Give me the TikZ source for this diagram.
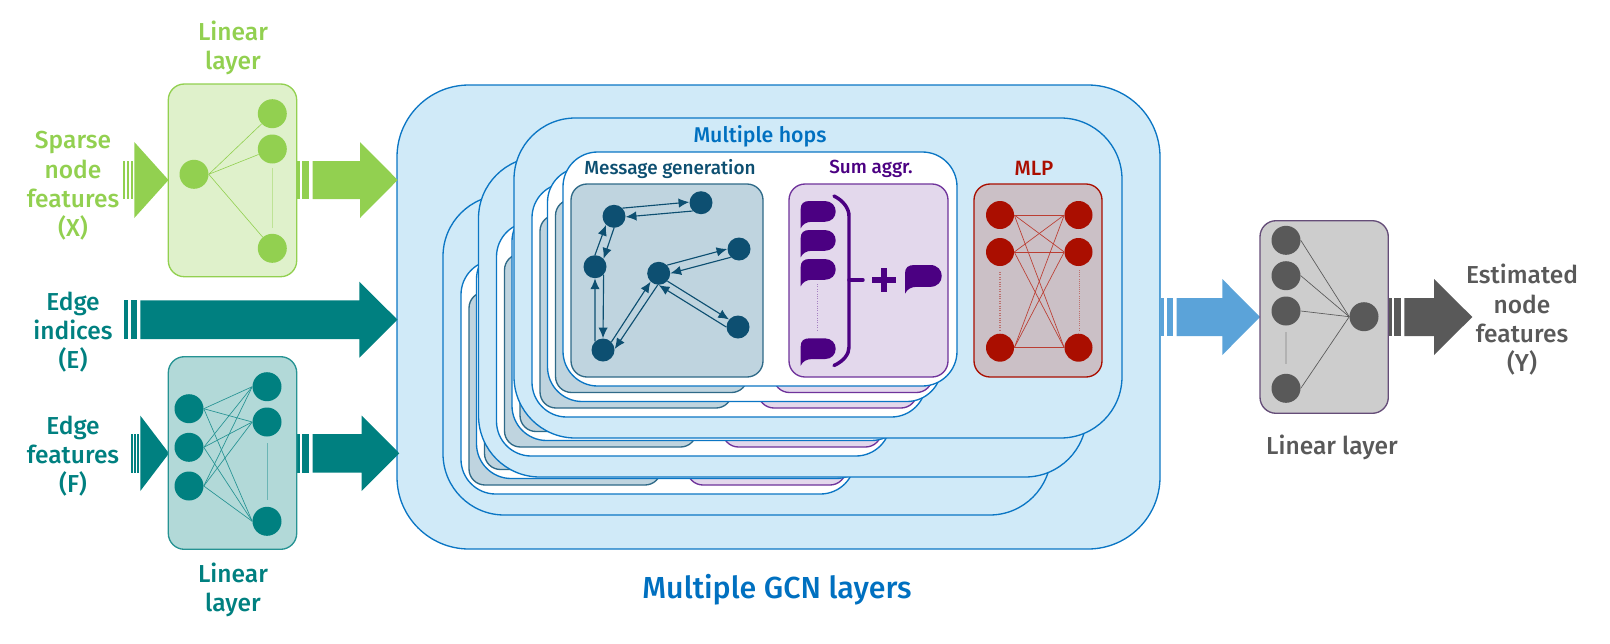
\documentclass[tikz,border=0pt]{standalone}
\usepackage{fontspec}
\setmainfont{Fira Sans}[UprightFont={Fira Sans Medium}]
\definecolor{cgreen}{HTML}{92D050}
\definecolor{cgreenp}{HTML}{DFF1CB}
\definecolor{cteal}{HTML}{008080}
\definecolor{ctealp}{HTML}{B2D9D8}
\definecolor{cgray}{HTML}{595959}
\definecolor{cgrayp}{HTML}{CDCDCD}
\definecolor{cgrays}{HTML}{654D78}
\definecolor{cblue}{HTML}{5BA3D9}
\definecolor{csky}{HTML}{D0EAF8}
\definecolor{cline}{HTML}{0B76C4}
\definecolor{cnavy}{HTML}{0D4F71}
\definecolor{cnavyp}{HTML}{BFD4DF}
\definecolor{cnavys}{HTML}{2F6A88}
\definecolor{cpurple}{HTML}{4B0082}
\definecolor{cpurplep}{HTML}{E3D8EC}
\definecolor{cred}{HTML}{AA0E00}
\definecolor{credp}{HTML}{CBC0C6}
\definecolor{ctext}{HTML}{0070C0}
\usetikzlibrary{arrows.meta}
\tikzset{
  panel/.style={rounded corners=12pt,line width=1pt},
  layerbox/.style={draw=cline,fill=csky,line width=1pt,rounded corners=46pt},
  hopbox/.style={draw=cline,fill=white,line width=1pt,rounded corners=26pt},
  vert/.style={circle,inner sep=0pt,minimum size=#1*0.75pt},
  lab/.style={align=center,inner sep=0pt,font=\fontsize{18.4}{22}\selectfont},
  sublab/.style={align=center,inner sep=0pt,font=\fontsize{14.2}{17}\selectfont},
  flow/.style={draw=cnavy,line width=0.85pt,-{Latex[length=8pt,width=7pt]}},
}
\newcommand\fatarrow[7]{\fill[#1] (#2,#5-#6) -- (#3,#5-#6) -- (#3,#5-#7) -- (#4,#5) -- (#3,#5+#7) -- (#3,#5+#6) -- (#2,#5+#6) -- cycle;}
\newcommand\stripe[5]{\fill[#1] (#2,#4) rectangle (#3,#5);}
\newcommand\bubble[3]{\fill[cpurple,shift={(#1,#2)},scale=#3] (0,27.3) -- (0,8) .. controls (0,2.5) and (3,0) .. (9,0) -- (24,0) .. controls (31,0) and (35,5) .. (35,10.4) .. controls (35,16) and (31,20.8) .. (24,20.8) -- (11,20.8) .. controls (6,20.8) and (2,23) .. (0,27.3) -- cycle;}
\newcommand\hopstack[2]{\begin{scope}[shift={(#1,#2)}]
  \draw[hopbox] (563,152) rectangle (957,386);
  \draw[panel,draw=cnavys,fill=cnavyp] (571,184) rectangle (763,377);
  \draw[panel,draw=cpurple!80!white,fill=cpurplep] (789,184) rectangle (948,377);
\end{scope}}
\newcommand\gcnlayer[2]{\begin{scope}[shift={(#1,#2)}]
  \draw[layerbox] (514,118) rectangle (1122,438);
  \hopstack{-31}{31}
  \hopstack{-15.5}{15.5}
  \hopstack{0}{0}
\end{scope}}
\begin{document}
\begin{tikzpicture}[x=0.75pt,y=-0.75pt]
\useasboundingbox (0,0) rectangle (1610,643);
% ---- big GCN stack
\draw[layerbox,rounded corners=54pt] (397,85) rectangle (1160,549);
\gcnlayer{-71}{77}
\gcnlayer{-35.5}{39}
\gcnlayer{0}{0}
\node[sublab,text=ctext,font=\fontsize{16}{18}\selectfont] (hops) at (760,136) {Multiple hops};
\node[sublab,text=cnavy] (msgt) at (670,169) {Message generation};
\node[sublab,text=cpurple] (sumt) at (871,169) {Sum aggr.};
\node[sublab,text=cred,font=\fontsize{15.5}{17}\selectfont] (mlpt) at (1034,168) {MLP};
\node[lab,text=ctext,font=\fontsize{22.8}{26}\selectfont] (gcnt) at (777,590) {Multiple GCN layers};
% ---- message generation graph
\begin{scope}[every node/.style={vert=23,fill=cnavy}]
\node (A) at (614,216.3) {};
\node (B) at (701,202.7) {};
\node (C) at (595,266.7) {};
\node (D) at (658.7,273.3) {};
\node (E) at (739,249) {};
\node (F) at (738,327) {};
\node (G) at (603,350) {};
\end{scope}
\draw[flow] (A.44) -- (B.177);
\draw[flow] (B.-135) -- (A.-3);
\draw[flow] (C.90) -- (A.227);
\draw[flow] (A.-90) -- (C.43);
\draw[flow] (G.133) -- (C.-90);
\draw[flow] (C.-43) -- (G.90);
\draw[flow] (G.44) -- (D.226);
\draw[flow] (D.-95) -- (G.5);
\draw[flow] (D.44) -- (E.180);
\draw[flow] (E.-135) -- (D.0);
\draw[flow] (D.-42) -- (F.140);
\draw[flow] (F.180) -- (D.-90);
% ---- sum aggregation
\bubble{800.7}{201}{1}
\bubble{800.7}{230}{1}
\bubble{800.7}{259}{1}
\bubble{800.7}{338.3}{1}
\bubble{905}{265}{1.05}
\draw[cpurple,line width=2.6pt,line cap=round] (834,196) .. controls (844,201) and (849,209) .. (849,216) -- (849,347) .. controls (849,354) and (844,361) .. (834,365.5);
\draw[cpurple,line width=2.6pt,line cap=round] (849,280) -- (863,280);
\draw[cpurple,line width=3.9pt] (872,280) -- (896,280) (884,268) -- (884,292);
\draw[cpurple!50!white,line width=0.8pt,densely dotted] (817.7,284) -- (817.7,331);
% ---- MLP
\draw[panel,draw=cred,fill=credp] (974,184) rectangle (1102,377);
\begin{scope}[every node/.style={vert=28,fill=cred}]
\node (ml1) at (1000,215) {};
\node (ml2) at (1000,252) {};
\node (ml3) at (1000,347.7) {};
\node (mr1) at (1078.5,215) {};
\node (mr2) at (1078.5,252) {};
\node (mr3) at (1078.5,347.7) {};
\end{scope}
\foreach \a in {ml1,ml2,ml3}\foreach \b in {mr1,mr2,mr3}\draw[cred!80!white,line width=0.5pt] (\a.east) -- (\b.west);
\draw[cred!45!credp,line width=0.8pt,densely dotted] (1000,272) -- (1000,330);
\draw[cred!45!credp,line width=0.6pt,densely dotted] (1079,270) -- (1079,330);
% ---- arrows
\stripe{cgreen}{122.7}{125}{161}{199}\stripe{cgreen}{126.7}{129.3}{161}{199}\stripe{cgreen}{131}{133.3}{161}{199}
\fatarrow{cgreen}{134.3}{134.3}{168.5}{180}{19}{38}
\stripe{cgreen}{296.7}{300}{161}{199}\stripe{cgreen}{302.3}{309}{161}{199}
\fatarrow{cgreen}{312.7}{360}{397.7}{180}{19}{38}
\stripe{cteal}{124}{128}{300.3}{339}\stripe{cteal}{130.7}{136.7}{300.3}{339}
\fatarrow{cteal}{140.3}{359.3}{397.5}{319.7}{19.4}{38}
\stripe{cteal}{131}{132.7}{434}{472.7}\stripe{cteal}{134}{135.7}{434}{472.7}\stripe{cteal}{137}{138.5}{434}{472.7}
\fatarrow{cteal}{140.3}{140.3}{169}{453.3}{19.3}{37.7}
\stripe{cteal}{296.7}{300}{434}{472.7}\stripe{cteal}{302.3}{309.3}{434}{472.7}
\fatarrow{cteal}{312.7}{361.7}{399.3}{453.3}{19.3}{37.7}
\stripe{cblue}{1160.7}{1164}{298}{336}\stripe{cblue}{1166.7}{1173.3}{298}{336}
\fatarrow{cblue}{1176.7}{1222.3}{1260}{317}{19}{38}
\stripe{cgray}{1388.7}{1392}{298}{336}\stripe{cgray}{1394}{1401}{298}{336}
\fatarrow{cgray}{1404.3}{1434}{1472.3}{317}{19}{38}
% ---- green linear layer
\draw[panel,draw=cgreen,fill=cgreenp] (168.3,84) rectangle (296.7,276.7);
\begin{scope}[every node/.style={vert=29,fill=cgreen}]
\node (g0) at (194,174.3) {};
\node (g1) at (272.3,113.7) {};
\node (g2) at (272.3,149) {};
\node (g3) at (272.3,248.3) {};
\end{scope}
\foreach \b in {g1,g2,g3}\draw[cgreen,line width=0.45pt] (g0.east) -- (\b);
\draw[cgreen!60!white,line width=0.4pt] (272.3,168) -- (272.3,228);
% ---- teal linear layer
\draw[panel,draw=cteal!85!white,fill=ctealp] (168.3,356.7) rectangle (296.7,549.3);
\begin{scope}[every node/.style={vert=29,fill=cteal}]
\node (t1) at (189,408.7) {};
\node (t2) at (189,447.3) {};
\node (t3) at (189,486) {};
\node (u1) at (267,386.7) {};
\node (u2) at (267,422) {};
\node (u3) at (267,521.3) {};
\end{scope}
\foreach \a in {t1,t2,t3}\foreach \b in {u1,u2,u3}\draw[cteal!85!white,line width=0.5pt] (\a.east) -- (\b.west);
\draw[cteal!40!ctealp,line width=0.6pt] (267,443) -- (267,500);
% ---- gray linear layer
\draw[panel,draw=cgrays,fill=cgrayp] (1260,220.7) rectangle (1388.3,413.3);
\begin{scope}[every node/.style={vert=29,fill=cgray}]
\node (k1) at (1286,240.3) {};
\node (k2) at (1286,275.7) {};
\node (k3) at (1286,311) {};
\node (k4) at (1286,388.3) {};
\node (k0) at (1364,316.7) {};
\end{scope}
\foreach \a in {k1,k2,k3,k4}\draw[cgray,line width=0.5pt] (\a.east) -- (k0.west);
\draw[black!30,line width=1.1pt] (1286,332) -- (1286,364);
% ---- labels
\node[lab,text=cgreen] (l1) at (233,48) {Linear\\layer};
\node[lab,text=cgreen] (l2) at (73,186) {Sparse\\node\\features\\(X)};
\node[lab,text=cteal] (l3) at (73,332) {Edge\\indices\\(E)};
\node[lab,text=cteal] (l4) at (73,456) {Edge\\features\\(F)};
\node[lab,text=cteal] (l5) at (233,590) {Linear\\layer};
\node[lab,text=cgray] (l6) at (1332,447) {Linear layer};
\node[lab,text=cgray] (l7) at (1522,320) {Estimated\\node\\features\\(Y)};
\end{tikzpicture}
\end{document}
